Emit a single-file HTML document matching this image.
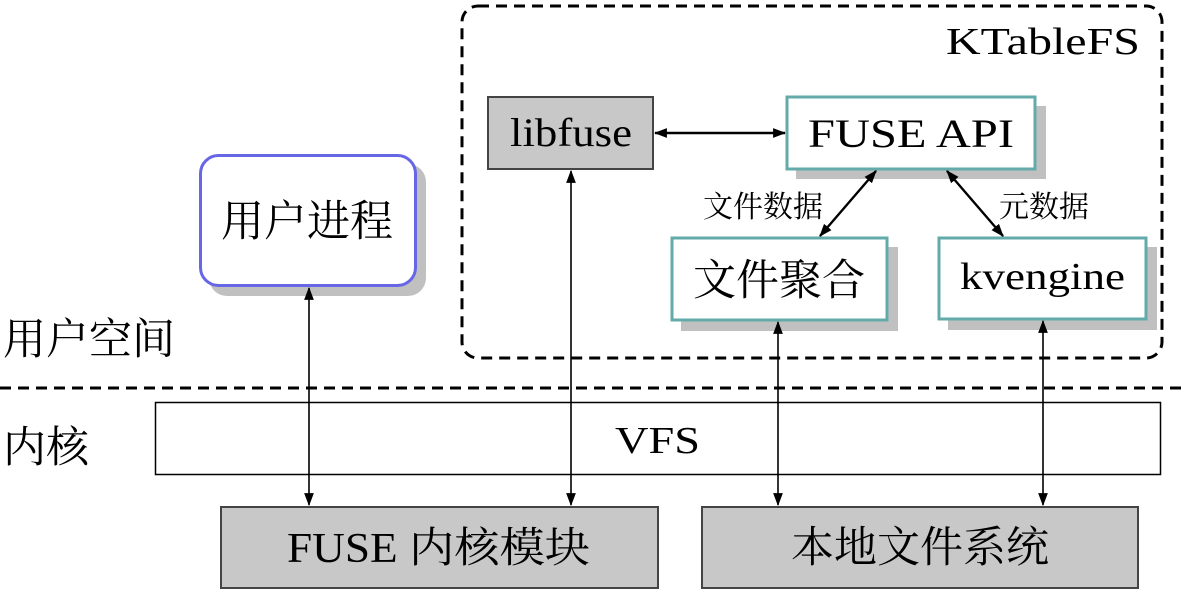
<!DOCTYPE html>
<html><head><meta charset="utf-8"><style>
body{margin:0;background:#fff}
svg text{font-family:"Liberation Serif","Noto Serif CJK SC",serif;fill:#000}
</style></head><body>
<svg width="1187" height="592" viewBox="0 0 1187 592" xmlns="http://www.w3.org/2000/svg">
<defs>
<marker id="a" viewBox="0 0 12 10" refX="11" refY="5" markerWidth="13" markerHeight="11" markerUnits="userSpaceOnUse" orient="auto-start-reverse"><path d="M0,0.5 L12,5 L0,9.5 Z" fill="#000"/></marker>
</defs>
<rect x="462" y="6" width="700" height="352" rx="16" fill="none" stroke="#000" stroke-width="3" stroke-dasharray="11,7"/>
<line x1="0" y1="388" x2="1187" y2="388" stroke="#000" stroke-width="3" stroke-dasharray="11,7"/>
<text x="946" y="54" font-size="38" textLength="194" lengthAdjust="spacingAndGlyphs">KTableFS</text>
<rect x="209" y="164" width="217" height="132" rx="18" fill="#c0c0c0"/>
<rect x="796" y="106" width="250" height="73" fill="#c0c0c0"/>
<rect x="681" y="247" width="217" height="84" fill="#c0c0c0"/>
<rect x="948" y="247" width="209" height="83" fill="#c0c0c0"/>
<rect x="200.5" y="155.5" width="215" height="130" rx="18" fill="#fff" stroke="#6666e6" stroke-width="3"/>
<text x="307" y="236" font-size="43" text-anchor="middle">用户进程</text>
<rect x="488" y="97" width="165" height="72" fill="#c8c8c8" stroke="#444" stroke-width="2"/>
<text x="510" y="146" font-size="40" textLength="122" lengthAdjust="spacingAndGlyphs">libfuse</text>
<rect x="787" y="97" width="248" height="72" fill="#fff" stroke="#63aaaa" stroke-width="3"/>
<text x="808" y="147" font-size="40" textLength="206" lengthAdjust="spacingAndGlyphs">FUSE API</text>
<rect x="672" y="238" width="215" height="82" fill="#fff" stroke="#63aaaa" stroke-width="3"/>
<text x="779" y="295" font-size="43" text-anchor="middle">文件聚合</text>
<rect x="939" y="238" width="207" height="81" fill="#fff" stroke="#63aaaa" stroke-width="3"/>
<text x="960" y="289" font-size="38" textLength="165" lengthAdjust="spacingAndGlyphs">kvengine</text>
<rect x="155.5" y="402.5" width="1005" height="72" fill="#fff" stroke="#000" stroke-width="1.5"/>
<text x="615" y="453" font-size="38" textLength="85" lengthAdjust="spacingAndGlyphs">VFS</text>
<rect x="221" y="507" width="437" height="81" fill="#c8c8c8" stroke="#444" stroke-width="2"/>
<text x="287" y="562" font-size="42" textLength="303" lengthAdjust="spacingAndGlyphs">FUSE 内核模块</text>
<rect x="702" y="507" width="436" height="81" fill="#c8c8c8" stroke="#444" stroke-width="2"/>
<text x="920" y="562" font-size="43" text-anchor="middle">本地文件系统</text>
<text x="3" y="354" font-size="43">用户空间</text>
<text x="3" y="462" font-size="43">内核</text>
<text x="763" y="217" font-size="30" text-anchor="middle">文件数据</text>
<text x="1044" y="217" font-size="30" text-anchor="middle">元数据</text>
<g stroke="#000" stroke-width="1.6" fill="none">
<line x1="309" y1="288" x2="309" y2="505" marker-start="url(#a)" marker-end="url(#a)"/>
<line x1="571" y1="171" x2="571" y2="505" marker-start="url(#a)" marker-end="url(#a)"/>
<line x1="778" y1="322" x2="778" y2="505" marker-start="url(#a)" marker-end="url(#a)"/>
<line x1="1043" y1="321" x2="1043" y2="505" marker-start="url(#a)" marker-end="url(#a)"/>
<g stroke-width="2.4">
<line x1="655" y1="133" x2="785" y2="133" marker-start="url(#a)" marker-end="url(#a)"/>
<line x1="876" y1="171" x2="820" y2="236" marker-start="url(#a)" marker-end="url(#a)"/>
<line x1="947" y1="171" x2="1003" y2="236" marker-start="url(#a)" marker-end="url(#a)"/>
</g>
</g>
</svg>
</body></html>
